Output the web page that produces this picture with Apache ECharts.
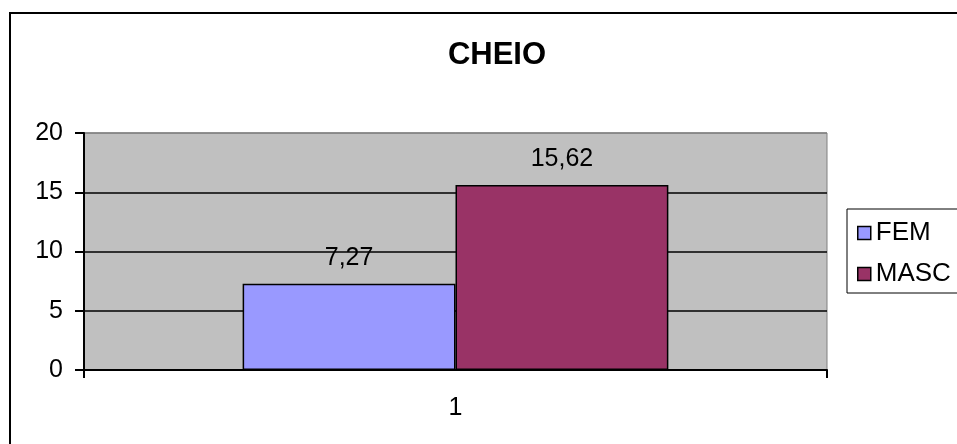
<!DOCTYPE html>
<html>
<head>
<meta charset="utf-8">
<script src="https://cdn.jsdelivr.net/npm/echarts@6/dist/echarts.min.js"></script>
<style>
  html, body { margin: 0; padding: 0; background: #ffffff; }
  #chart { width: 957px; height: 444px; }
</style>
</head>
<body>
<div id="chart"></div>
<script>
// Chart data
var chartTitle = 'CHEIO';
var categories = ['1'];
var seriesNames = ['FEM', 'MASC'];
var femValues = [7.27];
var mascValues = [15.62];
var seriesColors = ['#9999FF', '#993366'];

var FONT = '"Liberation Sans", Arial, sans-serif';

function labelFmt(p) {
  return String(p.value).replace('.', ',');
}

var chart = echarts.init(document.getElementById('chart'), null, { renderer: 'canvas' });

var option = {
  backgroundColor: '#ffffff',
  animation: false,
  title: {
    text: chartTitle,
    left: 492,
    top: 35,
    textAlign: 'center',
    textStyle: { fontFamily: FONT, fontSize: 31, fontWeight: 'bold', color: '#000000' }
  },
  legend: {
    orient: 'vertical',
    left: 847,
    top: 209,
    padding: [11, 30, 6, 10],
    itemGap: 15,
    itemWidth: 13,
    itemHeight: 13,
    icon: 'rect',
    backgroundColor: '#ffffff',
    borderColor: '#000000',
    borderWidth: 1,
    textStyle: { fontFamily: FONT, fontSize: 26, color: '#000000', padding: [0, 0, 0, 0] },
    itemStyle: { borderColor: '#000000', borderWidth: 1.5 },
    data: seriesNames
  },
  grid: {
    left: 84,
    right: 130,
    top: 133,
    bottom: 74,
    show: true,
    backgroundColor: '#C0C0C0',
    borderColor: '#808080',
    borderWidth: 1,
    containLabel: false
  },
  xAxis: {
    type: 'category',
    data: categories,
    boundaryGap: true,
    axisLine: { show: true, lineStyle: { color: '#000000', width: 2 } },
    axisTick: { show: true, length: 8, alignWithLabel: false, lineStyle: { color: '#000000', width: 2 } },
    axisLabel: { fontFamily: FONT, fontSize: 25, color: '#000000', margin: 26 },
    splitLine: { show: false }
  },
  yAxis: {
    type: 'value',
    min: 0,
    max: 20,
    interval: 5,
    axisLine: { show: true, lineStyle: { color: '#000000', width: 2 } },
    axisTick: { show: true, length: 9, lineStyle: { color: '#000000', width: 2 } },
    axisLabel: { fontFamily: FONT, fontSize: 25, color: '#000000', margin: 21 },
    splitLine: {
      show: true,
      lineStyle: { color: ['#000000', '#000000', '#000000', '#000000', '#808080'], width: 1.5 }
    }
  },
  series: [
    {
      name: seriesNames[0],
      type: 'bar',
      data: femValues,
      barGap: '0%',
      barCategoryGap: '42.7%',
      itemStyle: { color: seriesColors[0], borderColor: '#000000', borderWidth: 1.5 },
      label: {
        show: true,
        position: 'top',
        distance: 13,
        formatter: labelFmt,
        fontFamily: FONT,
        fontSize: 25,
        color: '#000000'
      }
    },
    {
      name: seriesNames[1],
      type: 'bar',
      data: mascValues,
      barGap: '0%',
      barCategoryGap: '42.7%',
      itemStyle: { color: seriesColors[1], borderColor: '#000000', borderWidth: 1.5 },
      label: {
        show: true,
        position: 'top',
        distance: 13,
        formatter: labelFmt,
        fontFamily: FONT,
        fontSize: 25,
        color: '#000000'
      }
    }
  ],
  graphic: [
    {
      // outer chart frame
      type: 'rect',
      silent: true,
      z: 100,
      shape: { x: 10, y: 13, width: 1000, height: 500 },
      style: { fill: 'none', stroke: '#000000', lineWidth: 2 }
    }
  ]
};

chart.setOption(option);
</script>
</body>
</html>
